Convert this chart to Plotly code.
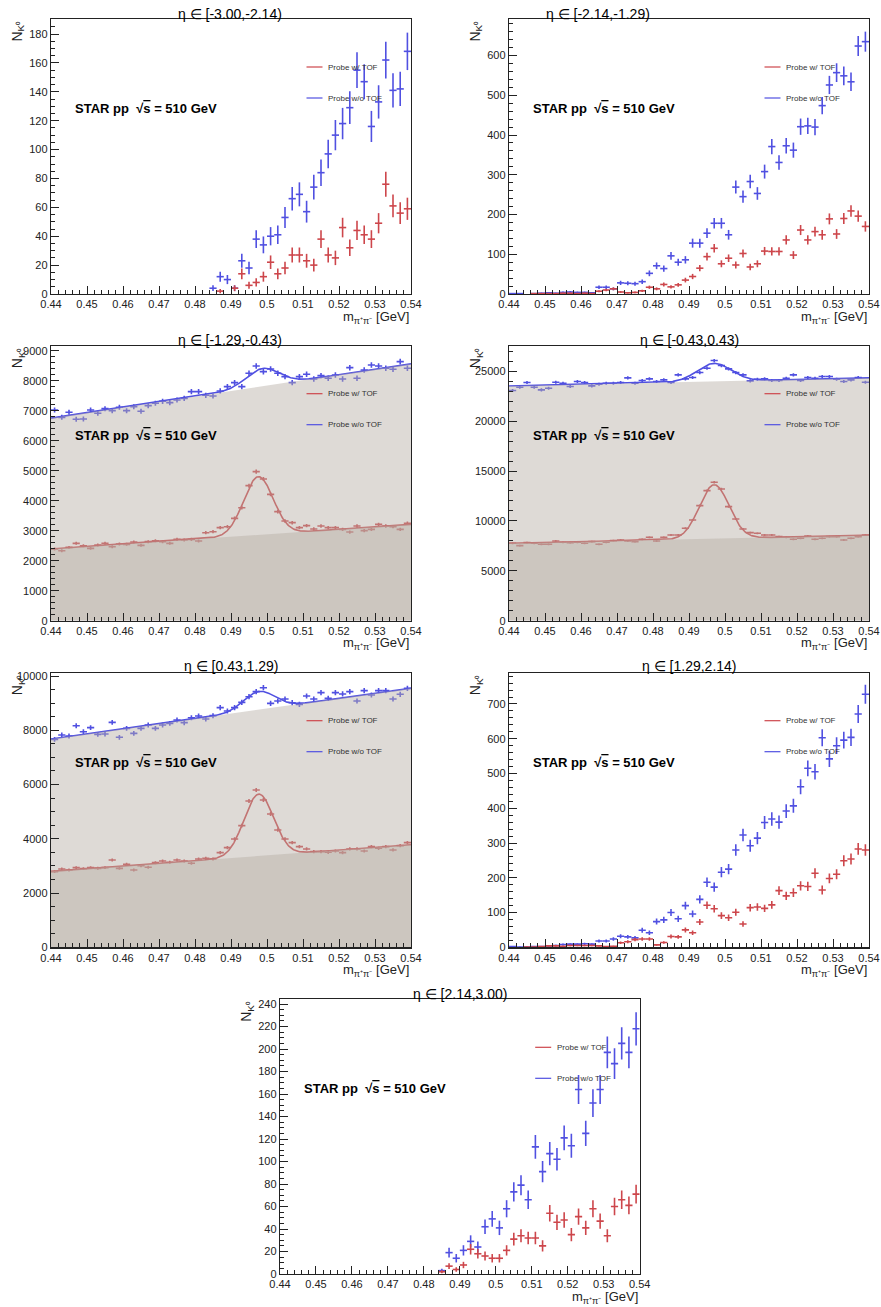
import numpy as np
import plotly.graph_objects as go

# page is 881x1307; the body margin is removed by a small post script so the figure fills the page
W, H, OFF = 881, 1307, 0
FONT = "Liberation Sans, Arial, Helvetica, sans-serif"

# ---------------- binning ----------------
mass_lo, mass_hi, n_bins = 0.44, 0.54, 50
edges = np.linspace(mass_lo, mass_hi, n_bins + 1)
centers = 0.5 * (edges[:-1] + edges[1:])
half_bin = (mass_hi - mass_lo) / n_bins / 2

x_tick_vals = [0.44, 0.45, 0.46, 0.47, 0.48, 0.49, 0.50, 0.51, 0.52, 0.53, 0.54]
x_tick_text = ["0.44", "0.45", "0.46", "0.47", "0.48", "0.49", "0.5", "0.51", "0.52", "0.53", "0.54"]

eta_titles = ["η ∈ [-3.00,-2.14)", "η ∈ [-2.14,-1.29)", "η ∈ [-1.29,-0.43)",
              "η ∈ [-0.43,0.43)", "η ∈ [0.43,1.29)", "η ∈ [1.29,2.14)", "η ∈ [2.14,3.00)"]

legend_labels = ["Probe w/ TOF", "Probe w/o TOF"]

# ---------------- data (counts per bin) ----------------
p1_wo_tof = [0]*22 + [4, 12, 10, 4, 23, 18, 38, 34, 40, 41, 53, 66, 69, 57, 74, 84, 97, 110, 118, 129,
                      155, 147, 116, 133, 162, 141, 142, 168]
p1_w_tof = [0]*23 + [2, 0, 4, 14, 6, 8, 12, 22, 14, 18, 27, 27, 23, 20, 38, 27, 25, 46, 32, 44, 41, 38,
                     49, 76, 61, 56, 59]

p2_wo_tof = [1, 1, 0, 1, 2, 3, 2, 4, 5, 4, 4, 3, 17, 17, 13, 28, 27, 26, 31, 52, 71, 64, 96, 80, 86, 128,
             128, 153, 178, 178, 149, 269, 245, 283, 253, 308, 371, 331, 373, 362, 421, 423, 420, 474,
             526, 557, 549, 534, 624, 635]
p2_w_tof = [0, 0, 0, 1, 1, 1, 1, 2, 2, 1, 2, 1, 7, 10, 13, 5, 3, 4, 8, 17, 13, 24, 18, 23, 35, 44, 65, 94,
            115, 76, 90, 73, 102, 68, 76, 108, 107, 107, 136, 98, 161, 136, 157, 149, 189, 151, 190, 209,
            196, 170]

p3_wo_tof = [7031, 6786, 6953, 6720, 6731, 7031, 6920, 7075, 7009, 7120, 7009, 7142, 6987, 7176, 7254,
             7320, 7276, 7365, 7420, 7643, 7643, 7521, 7498, 7665, 7810, 7943, 7810, 8255, 8500, 8310,
             8399, 8255, 8144, 7943, 8144, 8221, 8066, 8177, 8088, 8199, 8066, 8444, 8088, 8366, 8533,
             8500, 8422, 8388, 8644, 8422]
p3_w_tof = [2392, 2336, 2447, 2581, 2503, 2414, 2525, 2581, 2470, 2559, 2548, 2625, 2514, 2637, 2670,
            2637, 2581, 2714, 2692, 2714, 2659, 2937, 2970, 3104, 3137, 3415, 3771, 4506, 4973, 4728,
            4216, 3638, 3326, 3271, 3104, 3171, 3059, 3160, 3104, 3104, 3048, 2959, 3160, 3004, 3048,
            3215, 3160, 3137, 3048, 3249]

p4_wo_tof = [23060, 23394, 23862, 23394, 23127, 23294, 23895, 23795, 23461, 23962, 23862, 23528, 23695,
             23795, 23795, 23862, 24330, 23795, 24062, 24229, 23962, 24129, 23862, 24630, 24229, 24363,
             24864, 25300, 26068, 25566, 25233, 24864, 24630, 24028, 24196, 24229, 24062, 24062, 24296,
             24630, 24062, 24363, 24296, 24463, 24463, 24196, 23962, 24129, 24363, 23895]
p4_w_tof = [7753, 7520, 7820, 7753, 7653, 7653, 7987, 7854, 7820, 7854, 7753, 7920, 7653, 7854, 8021,
            8088, 7987, 7920, 8154, 8355, 7987, 8355, 8589, 8589, 9257, 10093, 11530, 13034, 13869,
            13201, 11430, 10193, 9190, 8823, 8756, 8589, 8589, 8422, 8355, 8154, 8255, 8489, 8154, 8255,
            8422, 8422, 8088, 8255, 8422, 8589]

p5_wo_tof = [7666, 7826, 7789, 8169, 7948, 8096, 7850, 7862, 8292, 7740, 8071, 7887, 8071, 8194, 8071,
             8194, 8255, 8378, 8280, 8464, 8526, 8415, 8538, 8833, 8710, 8833, 9029, 9238, 9423, 9570,
             8993, 9078, 9152, 9017, 8956, 9263, 9152, 9386, 9177, 9386, 9337, 9423, 9078, 9460, 9300,
             9460, 9460, 9152, 9325, 9546]
p5_w_tof = [2789, 2887, 2850, 2936, 2899, 2936, 2911, 2936, 3219, 2911, 3059, 2850, 3010, 2948, 3120,
            3182, 3133, 3219, 3182, 3096, 3256, 3280, 3256, 3489, 3673, 3993, 4484, 5393, 5798, 5430,
            4914, 4324, 3993, 3857, 3710, 3624, 3526, 3526, 3501, 3550, 3489, 3624, 3624, 3550, 3710,
            3649, 3710, 3587, 3747, 3857]

p6_wo_tof = [2, 1, 1, 2, 2, 4, 5, 8, 9, 9, 10, 9, 18, 18, 24, 32, 30, 27, 49, 42, 74, 79, 100, 82, 120,
             96, 138, 187, 173, 216, 225, 280, 323, 292, 314, 359, 369, 360, 392, 407, 462, 515, 505,
             603, 542, 580, 596, 604, 671, 728]
p6_w_tof = [0, 0, 1, 1, 2, 4, 4, 3, 5, 5, 5, 5, 4, 2, 3, 13, 16, 22, 24, 24, 7, 14, 31, 30, 50, 42, 73,
            121, 111, 91, 85, 101, 67, 114, 116, 112, 122, 163, 148, 157, 177, 175, 213, 165, 198, 210,
            249, 254, 283, 280]

p7_wo_tof = [0]*22 + [3, 19, 14, 21, 29, 24, 42, 49, 41, 58, 73, 79, 66, 113, 91, 107, 102, 121, 114,
                      164, 125, 152, 164, 197, 187, 205, 197, 218]
p7_w_tof = [0]*22 + [2, 7, 4, 8, 22, 18, 16, 14, 14, 21, 31, 34, 32, 32, 25, 54, 46, 48, 35, 51, 41, 58,
                     47, 34, 60, 66, 61, 71]

# fit parameters: [bg at 0.44, bg at 0.54, gauss amplitude, mean, sigma]
p3_fit_wo = [6760, 8570, 594, 0.4988, 0.0046]
p3_fit_w = [2390, 3215, 1940, 0.4976, 0.0041]
p4_fit_wo = [23520, 24330, 1800, 0.4970, 0.0047]
p4_fit_w = [7760, 8570, 5400, 0.4970, 0.0041]
p5_fit_wo = [7680, 9550, 670, 0.4978, 0.0043]
p5_fit_w = [2800, 3780, 2280, 0.4977, 0.0041]

# ---------------- styling ----------------
BLUE = "rgb(80,80,225)"
RED = "rgb(205,70,75)"
FILL = "rgba(182,173,164,0.45)"

# panel layout in page pixels: (left, right, top, bottom), y max, major / minor dtick, title centre
panels = [
    dict(box=(51, 411, 19, 294), ymax=190.4, dt=20, mdt=5, tx=230, ty=14,
         wo=p1_wo_tof, w=p1_w_tof, fits=None),
    dict(box=(509, 869, 19, 294), ymax=692, dt=100, mdt=20, tx=598, ty=14,
         wo=p2_wo_tof, w=p2_w_tof, fits=None),
    dict(box=(51, 411, 345.7, 620.7), ymax=9176, dt=1000, mdt=200, tx=230, ty=340,
         wo=p3_wo_tof, w=p3_w_tof, fits=(p3_fit_wo, p3_fit_w)),
    dict(box=(509, 869, 345.7, 620.7), ymax=27555, dt=5000, mdt=1000, tx=689, ty=340,
         wo=p4_wo_tof, w=p4_w_tof, fits=(p4_fit_wo, p4_fit_w)),
    dict(box=(51, 411, 672.7, 947.3), ymax=10122, dt=2000, mdt=500, tx=231, ty=666,
         wo=p5_wo_tof, w=p5_w_tof, fits=(p5_fit_wo, p5_fit_w)),
    dict(box=(509, 869, 672.7, 947.3), ymax=790, dt=100, mdt=20, tx=689, ty=666,
         wo=p6_wo_tof, w=p6_w_tof, fits=None),
    dict(box=(280, 639.7, 999.3, 1274), ymax=244.2, dt=20, mdt=5, tx=460, ty=993.5,
         wo=p7_wo_tof, w=p7_w_tof, fits=None),
]


def px_x(px):
    return (px - OFF) / W


def px_y(py):
    return 1 - (py - OFF) / H


def fit_curve(p, x):
    a, b, amp, mu, sig = p
    bg = a + (b - a) * (x - mass_lo) / (mass_hi - mass_lo)
    return bg + amp * np.exp(-0.5 * ((x - mu) / sig) ** 2)


def bg_line(p, x):
    a, b = p[0], p[1]
    return a + (b - a) * (np.asarray(x) - mass_lo) / (mass_hi - mass_lo)


fig = go.Figure()
annotations = []
shapes = []
layout_axes = {}
x_fine = np.linspace(mass_lo, mass_hi, 501)

for k, pn in enumerate(panels):
    n = k + 1
    xa = "x" if n == 1 else f"x{n}"
    ya = "y" if n == 1 else f"y{n}"
    L, R, T, B = pn["box"]

    for vals, col in ((pn["wo"], BLUE), (pn["w"], RED)):
        v = np.array(vals, dtype=float)
        yv = [None if c <= 0 else c for c in v]
        ey = [0 if c <= 0 else np.sqrt(c) for c in v]
        fig.add_trace(go.Scatter(
            x=centers, y=yv, xaxis=xa, yaxis=ya, mode="markers",
            marker=dict(size=1, color=col, opacity=0),
            error_y=dict(type="data", array=ey, visible=True, color=col, thickness=1.6, width=0),
            error_x=dict(type="constant", value=half_bin, visible=True, color=col, thickness=1.6, width=0),
            showlegend=False, hoverinfo="skip"))

    if pn["fits"] is not None:
        for p, col in zip(pn["fits"], (BLUE, RED)):
            fig.add_trace(go.Scatter(x=x_fine, y=fit_curve(p, x_fine), xaxis=xa, yaxis=ya,
                                     mode="lines", line=dict(color=col, width=1.6),
                                     showlegend=False, hoverinfo="skip"))
        for p in pn["fits"]:
            xs = [mass_lo, mass_hi]
            fig.add_trace(go.Scatter(x=xs, y=bg_line(p, xs), xaxis=xa, yaxis=ya,
                                     mode="lines", line=dict(width=0, color=FILL),
                                     fill="tozeroy", fillcolor=FILL,
                                     showlegend=False, hoverinfo="skip"))

    axis_common = dict(showline=True, mirror=True, linecolor="#222", linewidth=1.2, automargin=False,
                       showgrid=False, zeroline=False, ticks="inside", tickcolor="#222",
                       tickfont=dict(family=FONT, size=11, color="#222"))
    layout_axes["xaxis" if n == 1 else f"xaxis{n}"] = dict(
        axis_common, domain=[px_x(L), px_x(R)], range=[mass_lo, mass_hi], anchor=ya,
        tickmode="array", tickvals=x_tick_vals, ticktext=x_tick_text, ticklen=8,
        minor=dict(tick0=mass_lo, dtick=0.002, ticklen=4, ticks="inside", tickcolor="#222"))
    layout_axes["yaxis" if n == 1 else f"yaxis{n}"] = dict(
        axis_common, domain=[px_y(B), px_y(T)], range=[0, pn["ymax"]], anchor=xa,
        tickmode="linear", tick0=0, dtick=pn["dt"], ticklen=8, tickformat="d",
        minor=dict(tick0=0, dtick=pn["mdt"], ticklen=4, ticks="inside", tickcolor="#222"))

    # panel title
    annotations.append(dict(x=px_x(pn["tx"]), y=px_y(pn["ty"]), xref="paper", yref="paper",
                            text=eta_titles[k], showarrow=False, xanchor="center", yanchor="middle",
                            font=dict(family=FONT, size=14, color="black")))
    # y title
    annotations.append(dict(x=px_x(L - 33), y=px_y(T), xref="paper", yref="paper",
                            text="N<sub>K⁰</sub>", textangle=-90, showarrow=False,
                            xanchor="center", yanchor="top",
                            font=dict(family=FONT, size=14, color="#222")))
    # x title
    annotations.append(dict(x=px_x(R), y=px_y(B + 23), xref="paper", yref="paper",
                            text="m<sub>π⁺π⁻</sub> [GeV]", showarrow=False,
                            xanchor="right", yanchor="middle",
                            font=dict(family=FONT, size=13, color="#222")))
    # STAR label
    annotations.append(dict(x=px_x(L + 22), y=px_y(T + 89.5), xref="paper", yref="paper",
                            text="<b>STAR pp  √<span style='text-decoration:overline'>s</span> = 510 GeV</b>",
                            showarrow=False, xanchor="left", yanchor="middle",
                            font=dict(family=FONT, size=13, color="black")))
    # legend
    for j, (lab, col) in enumerate(zip(legend_labels, (RED, BLUE))):
        yy = T + 48 + 31 * j
        shapes.append(dict(type="line", xref="paper", yref="paper",
                           x0=px_x(R - 104.5), x1=px_x(R - 88.5), y0=px_y(yy), y1=px_y(yy),
                           line=dict(color=col, width=1.2)))
        annotations.append(dict(x=px_x(R - 85), y=px_y(yy), xref="paper", yref="paper",
                                text=lab, showarrow=False, xanchor="left", yanchor="middle",
                                font=dict(family=FONT, size=8, color="#333")))

fig.update_layout(width=W, height=H, margin=dict(l=0, r=0, t=0, b=0, autoexpand=False),
                  paper_bgcolor="white", plot_bgcolor="white",
                  annotations=annotations, shapes=shapes, showlegend=False, **layout_axes)

fig.write_html(
    "out.html",
    config={"displayModeBar": False, "staticPlot": True},
    post_script="document.body.style.margin='0';document.body.style.overflow='hidden';"
                "document.documentElement.style.overflow='hidden';")
